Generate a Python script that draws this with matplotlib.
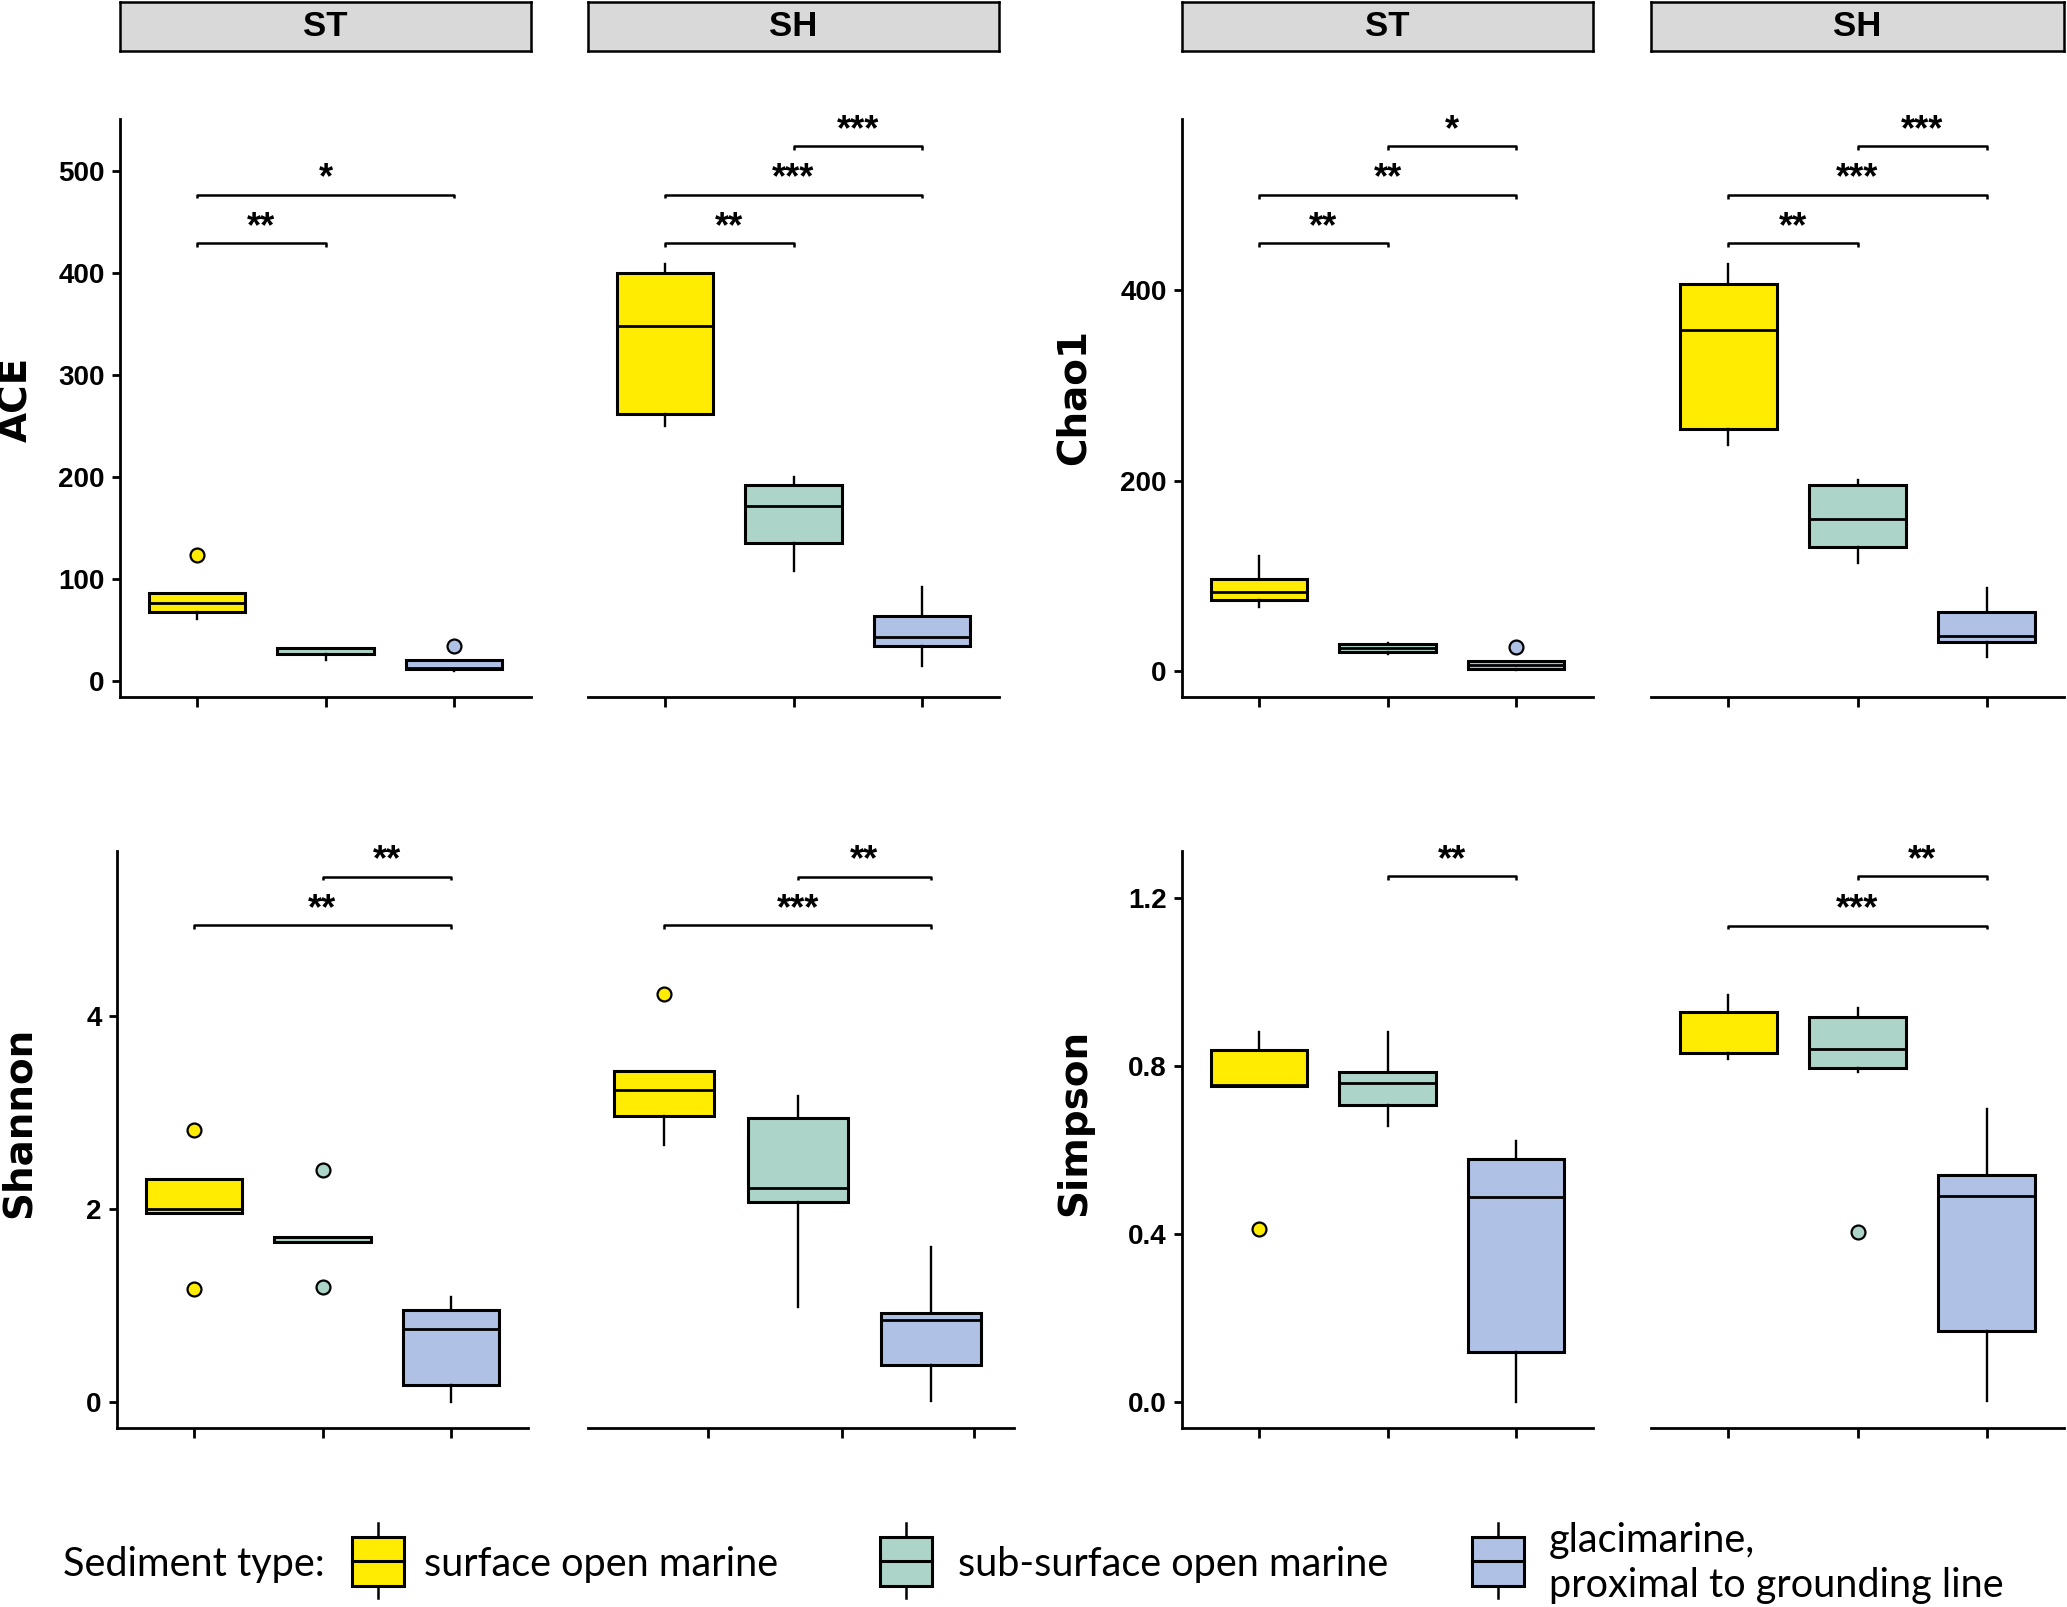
import matplotlib
matplotlib.use("Agg")
import matplotlib.pyplot as plt
from matplotlib.patches import Rectangle

# ---- data: (whisker low, Q1, median, Q3, whisker high) per sediment type ----
groups = ["surface open marine", "sub-surface open marine", "glacimarine,\nproximal to grounding line"]
colors = ["#FFEC00", "#ACD4C9", "#AFC1E5"]

ace_st = [(61, 68, 76.5, 86, 86), (20.5, 26.7, 26.7, 31.8, 31.8), (10, 11.2, 12.3, 20, 20)]
ace_st_out = [[123], [], [34.2]]
ace_sh = [(250, 262, 348, 400, 409), (108, 135, 171, 192, 200), (15, 34, 43, 63.5, 92)]
ace_sh_out = [[], [], []]

chao_st = [(67.5, 75, 83, 97, 120.5), (18, 20, 24.5, 29, 30), (1, 2.4, 7, 10.6, 10.6)]
chao_st_out = [[], [], [26]]
chao_sh = [(237, 254, 358.5, 406, 427), (114, 130, 159.5, 195, 201), (14.5, 31, 36.6, 62.7, 87)]
chao_sh_out = [[], [], []]

shan_st = [(1.963, 1.963, 2.0, 2.31, 2.31), (1.658, 1.658, 1.658, 1.707, 1.707), (0.0, 0.172, 0.754, 0.95, 1.086)]
shan_st_out = [[2.82, 1.17], [2.40, 1.195], []]
shan_sh = [(2.664, 2.959, 3.238, 3.434, 3.434), (0.984, 2.07, 2.221, 2.947, 3.176), (0.008, 0.385, 0.852, 0.922, 1.607)]
shan_sh_out = [[4.225], [], []]

simp_st = [(0.7526, 0.7526, 0.755, 0.838, 0.8816), (0.658, 0.708, 0.76, 0.7855, 0.8816), (0.0, 0.1196, 0.488, 0.578, 0.6216)]
simp_st_out = [[0.4125], [], []]
simp_sh = [(0.8176, 0.8317, 0.832, 0.929, 0.969), (0.787, 0.796, 0.840, 0.9165, 0.939), (0.002, 0.1695, 0.4917, 0.5406, 0.697)]
simp_sh_out = [[], [0.405], []]

# significance brackets: (group a, group b, height, label)
ace_st_sig = [(1, 2, 429, "**"), (1, 3, 476.6, "*")]
ace_sh_sig = [(1, 2, 429, "**"), (1, 3, 476.6, "***"), (2, 3, 524, "***")]
chao_st_sig = [(1, 2, 449, "**"), (1, 3, 500, "**"), (2, 3, 551, "*")]
chao_sh_sig = [(1, 2, 449, "**"), (1, 3, 500, "***"), (2, 3, 551, "***")]
shan_st_sig = [(1, 3, 4.94, "**"), (2, 3, 5.447, "**")]
shan_sh_sig = [(1, 3, 4.94, "***"), (2, 3, 5.447, "**")]
simp_st_sig = [(2, 3, 1.2518, "**")]
simp_sh_sig = [(1, 3, 1.135, "***"), (2, 3, 1.2518, "**")]

NARROW = ["Liberation Sans", "DejaVu Sans"]

W, H = 2067, 1607
fig = plt.figure(figsize=(W / 100, H / 100), dpi=100)


def px_rect(x0, y0, x1, y1):
    """Figure-fraction rect from pixel box (y measured from top)."""
    return [x0 / W, 1 - y1 / H, (x1 - x0) / W, (y1 - y0) / H]


def draw_panel(rect, stats, outliers, sig, ylim, yticks=None, yfmt="{:g}", ylabel=None,
               xlim=(0.4, 3.6), xticks=(1, 2, 3), label_x=-0.26, label_y=0.5):
    ax = fig.add_axes(rect)
    bstats = []
    for (lo, q1, med, q3, hi), out in zip(stats, outliers):
        bstats.append(dict(whislo=lo, q1=q1, med=med, q3=q3, whishi=hi, fliers=out))
    res = ax.bxp(bstats, positions=[1, 2, 3], widths=0.75, patch_artist=True,
                 showcaps=False,
                 boxprops=dict(linewidth=2.2, edgecolor="black"),
                 whiskerprops=dict(linewidth=1.7, color="black"),
                 medianprops=dict(linewidth=2.0, color="black"),
                 flierprops=dict(marker="o", markersize=10, markeredgecolor="black",
                                 markeredgewidth=1.6, linestyle="none"))
    for patch, fl, c in zip(res["boxes"], res["fliers"], colors):
        patch.set_facecolor(c)
        fl.set_markerfacecolor(c)

    ax.set_xlim(*xlim)
    ax.set_ylim(*ylim)
    ax.set_xticks(list(xticks))
    ax.set_xticklabels([])
    ax.tick_params(axis="x", length=7, width=2.0, direction="out")
    for s in ["top", "right"]:
        ax.spines[s].set_visible(False)
    ax.spines["bottom"].set_linewidth(2.0)
    if yticks is None:
        ax.spines["left"].set_visible(False)
        ax.set_yticks([])
    else:
        ax.spines["left"].set_linewidth(2.0)
        ax.set_yticks(yticks)
        ax.set_yticklabels([yfmt.format(v) for v in yticks], family=NARROW,
                           fontweight="bold", fontsize=20)
        ax.tick_params(axis="y", length=6, width=2.0, pad=5)

    # brackets
    drop = (ylim[1] - ylim[0]) * 0.0065
    for a, b, h, lab in sig:
        ax.plot([a, a, b, b], [h - drop, h, h, h - drop], color="black", lw=1.8,
                solid_capstyle="butt")
        ax.annotate(lab, xy=((a + b) / 2, h), xytext=(0, 4.5), textcoords="offset points",
                    ha="center", va="baseline", fontsize=26, fontweight="bold",
                    family=NARROW)
    if ylabel:
        ax.text(label_x, label_y, ylabel, transform=ax.transAxes, rotation=90,
                ha="center", va="center", fontsize=28, fontweight="bold",
                family="DejaVu Sans")
    return ax


def strip(x0, x1, label):
    sax = fig.add_axes(px_rect(x0, 2, x1, 50.5))
    sax.set_facecolor("#D9D9D9")
    sax.set_xticks([])
    sax.set_yticks([])
    for s in sax.spines.values():
        s.set_linewidth(1.8)
    sax.text(0.5, 0.5, label, ha="center", va="center", fontsize=25,
             fontweight="bold", family=NARROW, transform=sax.transAxes)


top = (119.4, 697)
bot = (850.8, 1428)

draw_panel(px_rect(120, top[0], 531, top[1]), ace_st, ace_st_out, ace_st_sig, (-15.8, 550.4),
           yticks=[0, 100, 200, 300, 400, 500], ylabel="ACE", label_x=-0.253, label_y=0.515)
draw_panel(px_rect(588, top[0], 999, top[1]), ace_sh, ace_sh_out, ace_sh_sig, (-15.8, 550.4))
draw_panel(px_rect(1182, top[0], 1593, top[1]), chao_st, chao_st_out, chao_st_sig, (-27, 579.2),
           yticks=[0, 200, 400], ylabel="Chao1", label_x=-0.263, label_y=0.52)
draw_panel(px_rect(1651, top[0], 2064, top[1]), chao_sh, chao_sh_out, chao_sh_sig, (-27, 579.2))

draw_panel(px_rect(117, bot[0], 528, bot[1]), shan_st, shan_st_out, shan_st_sig, (-0.271, 5.714),
           yticks=[0, 2, 4], ylabel="Shannon", label_x=-0.24, label_y=0.53)
draw_panel(px_rect(588, bot[0], 1014, bot[1]), shan_sh, shan_sh_out, shan_sh_sig, (-0.271, 5.714),
           xlim=(0.43, 3.62), xticks=(1.33, 2.33, 3.32))
draw_panel(px_rect(1182, bot[0], 1593, bot[1]), simp_st, simp_st_out, simp_st_sig, (-0.062, 1.313),
           yticks=[0.0, 0.4, 0.8, 1.2], yfmt="{:.1f}", ylabel="Simpson", label_x=-0.263,
           label_y=0.53)
draw_panel(px_rect(1651, bot[0], 2064, bot[1]), simp_sh, simp_sh_out, simp_sh_sig, (-0.062, 1.313))

strip(120, 531, "ST")
strip(588, 999, "SH")
strip(1182, 1593, "ST")
strip(1651, 2064, "SH")

# ---- legend drawn in pixel coordinates along the bottom ----
lax = fig.add_axes(px_rect(0, 1500, W, H))
lax.set_xlim(0, W)
lax.set_ylim(H, 1500)
lax.axis("off")
lax.text(63, 1576, "Sediment type:", fontsize=28.5, family="Lato", va="baseline", ha="left")
key_x = [352, 880, 1472]
text_x = [424, 958, 1549]
for kx, tx, c, g in zip(key_x, text_x, colors, groups):
    cx = kx + 26
    lax.plot([cx, cx], [1523, 1598], color="black", lw=1.8)
    lax.add_patch(Rectangle((kx, 1537), 52, 49, facecolor=c, edgecolor="black", lw=2.2, zorder=3))
    lax.plot([kx, kx + 52], [1561, 1561], color="black", lw=2.2, zorder=4)
    if "\n" in g:
        l1, l2 = g.split("\n")
        lax.text(tx, 1552, l1, fontsize=28.5, family="Lato", va="baseline", ha="left")
        lax.text(tx, 1597, l2, fontsize=28.5, family="Lato", va="baseline", ha="left")
    else:
        lax.text(tx, 1576, g, fontsize=28.5, family="Lato", va="baseline", ha="left")

fig.savefig("out.png", dpi=100)
